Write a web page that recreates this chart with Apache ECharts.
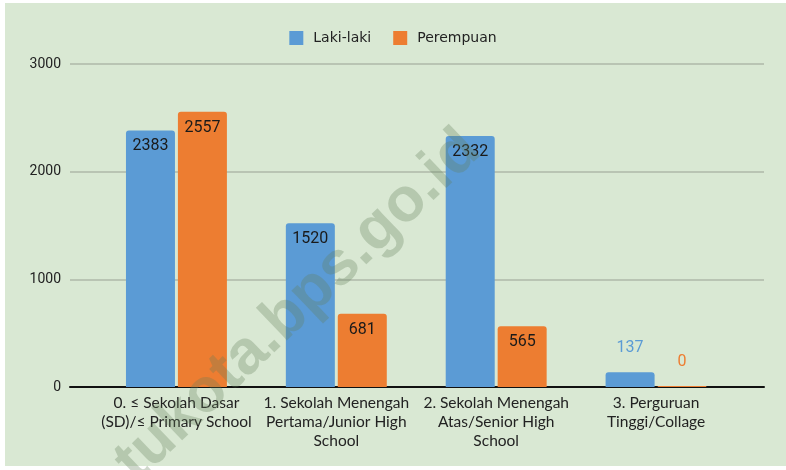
<!DOCTYPE html>
<html>
<head>
<meta charset="utf-8">
<script src="https://cdn.jsdelivr.net/npm/echarts@6/dist/echarts.min.js"></script>
<style>
  html, body { margin: 0; padding: 0; background: #fff; }
  #bg { position: absolute; left: 5px; top: 3px; width: 781px; height: 463px; background: #d9e8d3; }
  #main { position: absolute; left: 0; top: 0; width: 786px; height: 470px; }
</style>
</head>
<body>
<div id="bg"></div>
<div id="main"></div>
<script>
// data
const categories = [
  '0. ≤ Sekolah Dasar\n(SD)/≤ Primary School',
  '1. Sekolah Menengah\nPertama/Junior High\nSchool',
  '2. Sekolah Menengah\nAtas/Senior High\nSchool',
  '3. Perguruan\nTinggi/Collage'
]
const lakiLaki = [2383, 1520, 2332, 137]
const perempuan = [2557, 681, 565, 0]
const yTicks = [0, 1000, 2000, 3000]

const blue = '#5b9bd5'
const orange = '#ed7d31'

// small bars get their label above, in the bar colour
function toItems(values, color) {
  return values.map(v => {
    if (v < 300) {
      return { value: v, label: { position: 'top', distance: 15, color: color } }
    }
    return v
  })
}

const myChart = echarts.init(document.getElementById('main'))

const option = {
  backgroundColor: 'transparent',
  textStyle: { fontFamily: 'Lato' },
  legend: {
    top: 26,
    left: 'center',
    icon: 'rect',
    itemWidth: 14,
    itemHeight: 14,
    itemGap: 22,
    textStyle: { fontFamily: 'DejaVu Sans', fontSize: 14, color: '#222', padding: [0, 0, 0, 5] },
    data: ['Laki-laki', 'Perempuan']
  },
  grid: [
    { left: 70, right: 22, top: 64, bottom: 83 },
    { left: 96.5, right: 50, top: 64, bottom: 83 }
  ],
  xAxis: [
    {
      gridIndex: 0, type: 'value', min: 0, max: 1,
      axisLine: { show: true, onZero: false, lineStyle: { color: '#111', width: 2 } },
      axisTick: { show: false }, axisLabel: { show: false }, splitLine: { show: false }
    },
    {
      gridIndex: 1, type: 'category', data: categories,
      axisLine: { show: false }, axisTick: { show: false },
      axisLabel: {
        interval: 0, margin: 6, color: '#222',
        fontFamily: 'Lato', fontSize: 15.5, lineHeight: 19
      }
    }
  ],
  yAxis: [
    {
      gridIndex: 0, type: 'value',
      min: yTicks[0], max: yTicks[yTicks.length - 1], interval: 1000,
      axisLine: { show: false }, axisTick: { show: false },
      axisLabel: {
        margin: 9, color: '#222', fontFamily: 'Roboto', fontSize: 14,
        formatter: v => String(v)
      },
      splitLine: { lineStyle: { color: '#aeb8a8', width: 1.5 } }
    },
    {
      gridIndex: 1, type: 'value',
      min: yTicks[0], max: yTicks[yTicks.length - 1], interval: 1000,
      show: false, splitLine: { show: false }
    }
  ],
  series: [
    {
      name: 'Laki-laki', type: 'bar', xAxisIndex: 1, yAxisIndex: 1,
      barWidth: 49, barGap: '6%', barMinHeight: 1,
      itemStyle: { color: blue, borderRadius: [3, 3, 0, 0] },
      label: {
        show: true, position: 'insideTop', distance: 7,
        fontFamily: 'Roboto', fontSize: 16, lineHeight: 18, color: '#1a1a1a'
      },
      data: toItems(lakiLaki, blue)
    },
    {
      name: 'Perempuan', type: 'bar', xAxisIndex: 1, yAxisIndex: 1,
      barWidth: 49, barMinHeight: 1,
      itemStyle: { color: orange, borderRadius: [3, 3, 0, 0] },
      label: {
        show: true, position: 'insideTop', distance: 7,
        fontFamily: 'Roboto', fontSize: 16, lineHeight: 18, color: '#1a1a1a'
      },
      data: toItems(perempuan, orange)
    }
  ],
  // watermark
  graphic: [
    {
      type: 'text',
      x: 298, y: 306,
      rotation: 43.7 * Math.PI / 180,
      z: 100,
      silent: true,
      style: {
        text: 'tukota.bps.go.id',
        fontFamily: 'Liberation Sans',
        fontWeight: 'bold',
        fontSize: 62,
        fill: 'rgba(100,125,90,0.3)',
        align: 'center',
        verticalAlign: 'middle'
      }
    }
  ]
}

myChart.setOption(option)
</script>
</body>
</html>
